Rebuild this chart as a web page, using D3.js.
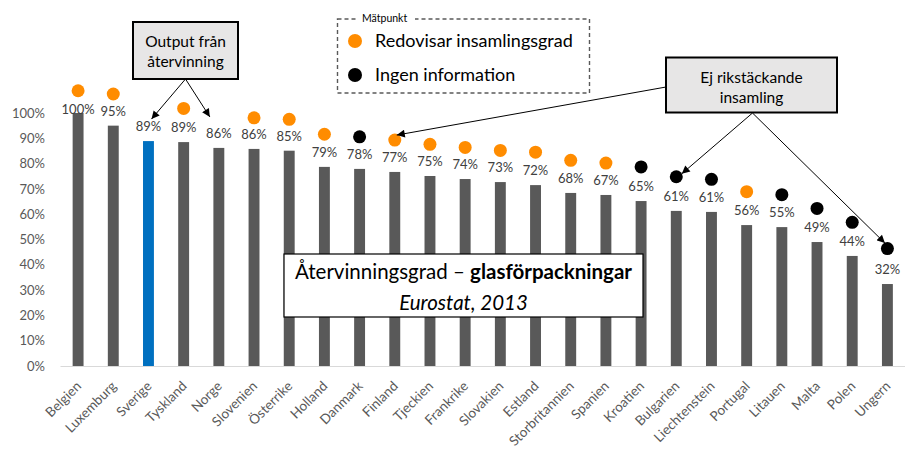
<!DOCTYPE html>
<html>
<head>
<meta charset="utf-8">
<script src="https://cdn.jsdelivr.net/npm/d3@7"></script>
<style>
  html, body { margin: 0; padding: 0; background: #fff; }
  svg { display: block; }
  text { font-family: Lato, "Open Sans", sans-serif; }
</style>
</head>
<body>
<svg id="chart" width="913" height="455"></svg>
<script>
// ---- Data ----
const countries = ["Belgien","Luxemburg","Sverige","Tyskland","Norge","Slovenien","Österrike","Holland","Danmark","Finland","Tjeckien","Frankrike","Slovakien","Estland","Storbritannien","Spanien","Kroatien","Bulgarien","Liechtenstein","Portugal","Litauen","Malta","Polen","Ungern"];
const recyclingRate = [1.00,0.95,0.889,0.885,0.862,0.858,0.851,0.787,0.779,0.767,0.751,0.739,0.727,0.715,0.684,0.676,0.652,0.613,0.609,0.557,0.549,0.490,0.435,0.324];
const valueLabels = ["100%","95%","89%","89%","86%","86%","85%","79%","78%","77%","75%","74%","73%","72%","68%","67%","65%","61%","61%","56%","55%","49%","44%","32%"];
const markerValue = [1.088,1.075,null,1.018,null,0.981,0.975,0.916,0.906,0.893,0.876,0.864,0.852,0.845,0.813,0.802,0.787,0.748,0.738,0.689,0.677,0.623,0.568,0.464];
const markerType = ["r","r",null,"r",null,"r","r","r","i","r","r","r","r","r","r","r","i","i","i","r","i","i","i","i"];
const highlight = "Sverige";
const yTicks = [0,0.1,0.2,0.3,0.4,0.5,0.6,0.7,0.8,0.9,1.0];
const legendItems = [{key:"r", label:"Redovisar insamlingsgrad"},{key:"i", label:"Ingen information"}];
const legendTitle = "Mätpunkt";
const titleMain = "Återvinningsgrad – ";
const titleBold = "glasförpackningar";
const titleSub = "Eurostat, 2013";
const callout1 = ["Output från","återvinning"];
const callout2 = ["Ej rikstäckande","insamling"];

const colors = { bar:"#595959", highlight:"#0070C0", r:"#FF8C00", i:"#000000" };

// ---- Setup ----
const svg = d3.select("#chart");
const x = d3.scaleBand().domain(countries).range([60.5, 905]).paddingInner(0.69).paddingOuter(0.345);
const y = d3.scaleLinear().domain([0, 1]).range([366, 113]);
const cx = c => x(c) + x.bandwidth() / 2;

const data = countries.map((c, i) => ({ c, v: recyclingRate[i], lab: valueLabels[i], m: markerValue[i], t: markerType[i] }));

// defs: arrow marker
svg.append("defs").append("marker")
  .attr("id", "arrow").attr("viewBox", "0 0 10 10").attr("refX", 10).attr("refY", 5)
  .attr("markerWidth", 9).attr("markerHeight", 8).attr("markerUnits", "userSpaceOnUse")
  .attr("orient", "auto")
  .append("path").attr("d", "M0,0 L10,5 L0,10 Z").attr("fill", "#000");

// Y axis
const yAxis = d3.axisLeft(y).tickValues(yTicks).tickFormat(d3.format(".0%")).tickSize(0).tickPadding(0);
const gy = svg.append("g").attr("transform", "translate(45,0)").call(yAxis);
gy.select(".domain").remove();
gy.selectAll("text").attr("fill", "#595959").style("font-size", "13px").style("font-family", "Lato, sans-serif");

// X axis
const xAxis = d3.axisBottom(x).tickSize(0).tickPadding(0);
const gx = svg.append("g").attr("transform", "translate(0,366)").call(xAxis);
gx.select(".domain").attr("stroke", "#D9D9D9").attr("stroke-width", 1.2).attr("d", "M60.5,0.5H905");
gx.selectAll(".tick text")
  .attr("fill", "#595959").style("font-size", "13.5px").style("font-family", "Lato, sans-serif")
  .attr("text-anchor", "end").attr("dy", null).attr("y", 0)
  .attr("transform", "translate(4,21) rotate(-45)");

// Bars
svg.append("g").selectAll("rect").data(data).join("rect")
  .attr("x", d => x(d.c)).attr("width", x.bandwidth())
  .attr("y", d => y(d.v)).attr("height", d => y(0) - y(d.v))
  .attr("fill", d => d.c === highlight ? colors.highlight : colors.bar);

// Value labels
svg.append("g").selectAll("text").data(data).join("text")
  .attr("x", d => cx(d.c)).attr("y", d => Math.max(y(d.v) - 10, 114))
  .attr("text-anchor", "middle").attr("fill", "#404040").style("font-size", "13px")
  .text(d => d.lab);

// Markers
svg.append("g").selectAll("circle").data(data.filter(d => d.m != null)).join("circle")
  .attr("cx", d => cx(d.c)).attr("cy", d => y(d.m)).attr("r", 6.5)
  .attr("fill", d => colors[d.t]);

// Title box
const tb = svg.append("g");
tb.append("rect").attr("x", 284).attr("y", 254).attr("width", 359).attr("height", 63)
  .attr("fill", "#fff").attr("stroke", "#000").attr("stroke-width", 1.2);
const t1 = tb.append("text").attr("x", 463.5).attr("y", 279).attr("text-anchor", "middle")
  .style("font-size", "20.5px").attr("fill", "#000");
t1.append("tspan").text(titleMain);
t1.append("tspan").attr("font-weight", "bold").text(titleBold);
tb.append("text").attr("x", 463.5).attr("y", 310).attr("text-anchor", "middle")
  .style("font-size", "20.5px").attr("font-style", "italic").attr("fill", "#000").text(titleSub);

// Legend
const lg = svg.append("g");
lg.append("rect").attr("x", 337.5).attr("y", 19).attr("width", 252).attr("height", 74)
  .attr("fill", "none").attr("stroke", "#595959").attr("stroke-width", 1.4).attr("stroke-dasharray", "4,3");
lg.append("rect").attr("x", 357).attr("y", 13).attr("width", 58).attr("height", 12).attr("fill", "#fff");
lg.append("text").attr("x", 362).attr("y", 21.5).style("font-size", "10.5px").attr("fill", "#000").text(legendTitle);
legendItems.forEach((it, i) => {
  const yy = 41 + i * 34;
  lg.append("circle").attr("cx", 355).attr("cy", yy).attr("r", 7).attr("fill", colors[it.key]);
  lg.append("text").attr("x", 375).attr("y", yy + 6).style("font-size", "18px").attr("fill", "#000").text(it.label);
});

// Callout boxes
function callout(bx, by, bw, bh, lines, baseY, gap) {
  const g = svg.append("g");
  g.append("rect").attr("x", bx).attr("y", by).attr("width", bw).attr("height", bh)
    .attr("fill", "#E7E6E6").attr("stroke", "#000").attr("stroke-width", 2);
  lines.forEach((l, i) => g.append("text").attr("x", bx + bw / 2).attr("y", baseY + i * gap)
    .attr("text-anchor", "middle").style("font-size", "15.5px").attr("fill", "#000").text(l));
}
callout(133, 22, 105, 57, callout1, 47, 20);
callout(666, 57.5, 171, 55, callout2, 83, 19.5);

// Arrows
function arrow(x1, y1, x2, y2) {
  svg.append("line").attr("x1", x1).attr("y1", y1).attr("x2", x2).attr("y2", y2)
    .attr("stroke", "#000").attr("stroke-width", 1).attr("marker-end", "url(#arrow)");
}
const ci = c => countries.indexOf(c);
arrow(185.5, 79, cx("Sverige") + 3, y(recyclingRate[ci("Sverige")]) - 22);
arrow(185.5, 79, cx("Norge") - 9, y(recyclingRate[ci("Norge")]) - 31);
arrow(666, 87, cx("Finland") + 2, y(markerValue[ci("Finland")]) - 5);
arrow(752.5, 113, cx("Bulgarien") + 5.5, y(markerValue[ci("Bulgarien")]) - 3);
arrow(752.5, 113, cx("Ungern") - 2.5, y(markerValue[ci("Ungern")]) - 5.5);
</script>
</body>
</html>
